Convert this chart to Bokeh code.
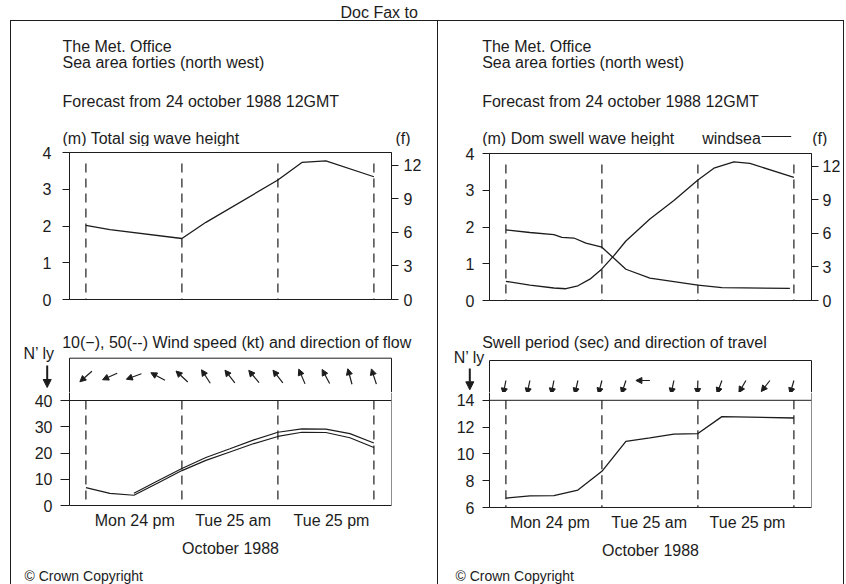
import math
from bokeh.plotting import figure
from bokeh.layouts import column, row
from bokeh.models import (Range1d, LinearAxis, FixedTicker, Arrow, NormalHead,
                          ColumnDataSource, Span, Spacer)
from bokeh.core.properties import value
from bokeh.embed import file_html
from bokeh.resources import INLINE
from bokeh.core.validation import silence
from bokeh.core.validation.warnings import MISSING_RENDERERS

silence(MISSING_RENDERERS, True)

# ---------------- data (hours after 24 Oct 1988 12GMT) ----------------
day_marks_h = [0, 12, 24, 36]

tot_hours = [0, 3, 12, 15, 24, 27, 30, 36]
tot_height_m = [2.02, 1.90, 1.66, 2.10, 3.25, 3.73, 3.77, 3.34]

swell_hours = [0, 3, 6, 7, 8.5, 10, 12, 15, 18, 24, 27, 35.5]
swell_m = [1.92, 1.85, 1.79, 1.72, 1.70, 1.56, 1.45, 0.85, 0.61, 0.42, 0.35, 0.33]

windsea_hours = [0, 3, 6, 7.5, 9, 10.5, 12, 13.5, 15, 18, 21, 24, 26, 28.5, 30.5, 36]
windsea_m = [0.52, 0.42, 0.34, 0.32, 0.40, 0.58, 0.86, 1.22, 1.62, 2.22, 2.72, 3.28,
             3.60, 3.77, 3.73, 3.35]

wind10_hours = [0, 3, 6, 9, 12, 15, 18, 21, 24, 27, 30, 33, 36]
wind10_kt = [6.8, 4.6, 3.9, 8.6, 13.3, 17.2, 20.4, 23.6, 26.3, 27.9, 27.8, 25.8, 22.1]
wind50_hours = [6, 9, 12, 15, 18, 21, 24, 27, 30, 33, 36]
wind50_kt = [4.7, 9.4, 14.1, 18.3, 21.6, 25.0, 27.9, 29.2, 29.1, 27.4, 23.8]

arrow_hours = [0, 3, 6, 9, 12, 15, 18, 21, 24, 27, 30, 33, 36]
wind_flow_deg = [229, 246, 250, 298, 313, 327, 322, 320, 322, 337, 332, 345, 342]
swell_travel_deg = [191, 192, 191, 193, 194, 198, 270, 192, 182, 200, 210, 218, 196]

period_hours = [0, 3, 6, 9, 12, 15, 18, 21, 24, 27, 36]
period_s = [6.7, 6.87, 6.88, 7.3, 8.7, 10.93, 11.2, 11.48, 11.52, 12.78, 12.68]

m_ticks = [0, 1, 2, 3, 4]
ft_ticks = [0, 3, 6, 9, 12]
kt_ticks = [0, 10, 20, 30, 40]
sec_ticks = [6, 8, 10, 12, 14]
time_labels = ["Mon 24 pm", "Tue 25 am", "Tue 25 pm"]
time_label_h_left = [6.1, 18.4, 30.7]
time_label_h_right = [5.5, 17.9, 30.2]
M_PER_FT = 0.3048

# ---------------- style / layout constants ----------------
FONT = "Liberation Sans"
INK = "#1c1c1c"
PXH = 8.0            # px per hour
FW = 322             # frame width
XS = -2.05
XE = XS + FW / PXH
KT_PX = 2.625        # px per knot
SEC_PX = 13.4        # px per second


def page_fig(x0, x1, y0, y1):
    return figure(width=x1 - x0, height=y1 - y0, x_range=Range1d(x0, x1),
                  y_range=Range1d(y1, y0), x_axis_type=None, y_axis_type=None,
                  toolbar_location=None, output_backend="svg", min_border=0,
                  outline_line_color=None, background_fill_color="white",
                  border_fill_color="white", frame_align=False)


def bar(w, h):
    return Spacer(width=w, height=h, styles={"background-color": INK})


def gap(w, h):
    return Spacer(width=w, height=h)


def chart_fig(w, h, left, top, frame_h, y0, y1):
    return figure(width=w, height=h, x_range=Range1d(XS, XE), y_range=Range1d(y0, y1),
                  x_axis_type=None, y_axis_type=None, toolbar_location=None,
                  output_backend="svg", min_border_left=left,
                  min_border_right=w - left - FW, min_border_top=top,
                  min_border_bottom=h - top - frame_h, outline_line_color=None,
                  background_fill_color="white", border_fill_color="white",
                  frame_align=False)


def txt(p, x, y, s, size=16, align="left"):
    p.text(x=[x], y=[y], text=[s], text_font=value(FONT), text_font_size=f"{size}px",
           text_align=align, text_baseline="middle", text_color=INK)


def style_axis(ax, tick_out, standoff):
    ax.axis_line_color = INK
    ax.axis_line_width = 1
    ax.major_tick_line_color = INK
    ax.major_tick_out = tick_out
    ax.major_tick_in = 0
    ax.minor_tick_line_color = None
    ax.major_label_text_font = FONT
    ax.major_label_text_font_size = "16px"
    ax.major_label_text_color = INK
    ax.major_label_standoff = standoff


def arrows(p, xs, ys, xe, ye, head=6, width=1.2, x_range_name="default"):
    src = ColumnDataSource(dict(x0=xs, y0=ys, x1=xe, y1=ye))
    a = Arrow(end=NormalHead(size=head, fill_color=INK, line_color=INK, line_width=1),
              x_start="x0", y_start="y0", x_end="x1", y_end="y1", source=src,
              line_color=INK, line_width=width, x_range_name=x_range_name)
    p.add_layout(a)


def time_axis(p, positions):
    ax = LinearAxis(ticker=FixedTicker(ticks=positions), axis_label="October 1988")
    ov = {}
    for pos, lab in zip(positions, time_labels):
        ov[pos] = lab
    ax.major_label_overrides = ov
    style_axis(ax, 0, 6)
    ax.axis_label_text_font = FONT
    ax.axis_label_text_font_size = "16px"
    ax.axis_label_text_font_style = "normal"
    ax.axis_label_text_color = INK
    ax.axis_label_standoff = 8
    p.add_layout(ax, "below")


def dashed_marks(p, top, bottom):
    p.segment(x0=day_marks_h, y0=[top] * len(day_marks_h), x1=day_marks_h,
              y1=[bottom] * len(day_marks_h), line_color=INK, line_width=1.2,
              line_dash="9 6")


def header_text(p, x0, ytitle, chart_title):
    txt(p, x0, 46, "The Met. Office")
    txt(p, x0, 62, "Sea area forties (north west)")
    txt(p, x0, 101, "Forecast from 24 october 1988 12GMT")
    txt(p, x0, ytitle, chart_title)


# ---------------- header ----------------
head = page_fig(0, 846, 0, 20)
txt(head, 340, 12, "Doc Fax to")
hline = row(gap(10, 1), bar(834, 1), gap(2, 1))

# ================= LEFT HALF (page x 11..437) =================
t1 = page_fig(11, 437, 21, 146)
header_text(t1, 62, 137.5, "(m) Total sig wave height")
txt(t1, 395, 137.5, "(f)")

c1 = chart_fig(426, 162, 58, 6, 147, 0, 4)
c1.outline_line_color = INK
c1.extra_y_ranges = {"ft": Range1d(0, 4 / M_PER_FT)}
ax = LinearAxis(ticker=FixedTicker(ticks=m_ticks))
style_axis(ax, 7, 11)
c1.add_layout(ax, "left")
ax = LinearAxis(y_range_name="ft", ticker=FixedTicker(ticks=ft_ticks))
style_axis(ax, 7, 5)
c1.add_layout(ax, "right")
dashed_marks(c1, 3.7, 0)
c1.line(tot_hours, tot_height_m, line_color=INK, line_width=1.3)

s2 = page_fig(11, 437, 308, 392)
h0 = XS - (69 - 11) / PXH
s2.extra_x_ranges = {"h": Range1d(h0, h0 + 426 / PXH)}
txt(s2, 61.7, 342, "10(\u2212), 50(--) Wind speed (kt) and direction of flow")
txt(s2, 23, 353, "N\u2019 ly")
arrows(s2, [46.7], [365], [46.7], [387], head=8, width=2)
s2.line([69, 69, 391, 391], [392, 357.7, 357.7, 392], line_color=INK, line_width=1)
L = 16
wx0, wx1, wy0, wy1 = [], [], [], []
for t, b in zip(arrow_hours, wind_flow_deg):
    dx = L * math.sin(math.radians(b)) / PXH
    dy = -L * math.cos(math.radians(b))
    wx0.append(t - dx / 2); wx1.append(t + dx / 2)
    wy0.append(376 - dy / 2); wy1.append(376 + dy / 2)
arrows(s2, wx0, wy0, wx1, wy1, head=6, width=1.2, x_range_name="h")

w = chart_fig(426, 174, 58, 0, 113, 0, 113 / KT_PX)
ax = LinearAxis(ticker=FixedTicker(ticks=kt_ticks))
style_axis(ax, 9, 8)
w.add_layout(ax, "left")
time_axis(w, time_label_h_left)
w.add_layout(Span(location=40, dimension="width", line_color=INK, line_width=1))
w.add_layout(Span(location=XE, dimension="height", line_color=INK, line_width=1))
dashed_marks(w, 40, 0)
w.line(wind10_hours, wind10_kt, line_color=INK, line_width=1.2)
w.line(wind50_hours, wind50_kt, line_color=INK, line_width=1.2)

b1 = page_fig(11, 437, 566, 584)
txt(b1, 24, 575.5, "\u00a9 Crown Copyright", size=14)

left_col = column(t1, c1, s2, w, b1)

# ================= RIGHT HALF (page x 438..843) =================
t2 = page_fig(438, 843, 21, 146)
header_text(t2, 481.7, 137.5, "(m) Dom swell wave height")
txt(t2, 701.7, 137.5, "windsea")
t2.line([761, 790.7], [136, 136], line_color=INK, line_width=1)
txt(t2, 811.7, 137.5, "(f)")

c2 = chart_fig(405, 162, 51, 7, 147, 0, 4)
c2.outline_line_color = INK
c2.extra_y_ranges = {"ft": Range1d(0, 4 / M_PER_FT)}
ax = LinearAxis(ticker=FixedTicker(ticks=m_ticks))
style_axis(ax, 7, 8)
c2.add_layout(ax, "left")
ax = LinearAxis(y_range_name="ft", ticker=FixedTicker(ticks=ft_ticks))
style_axis(ax, 7, 4)
c2.add_layout(ax, "right")
dashed_marks(c2, 3.7, 0)
c2.line(swell_hours, swell_m, line_color=INK, line_width=1.3)
c2.line(windsea_hours, windsea_m, line_color=INK, line_width=1.3)

s3 = page_fig(438, 843, 308, 392)
h0r = XS - (489 - 438) / PXH
s3.extra_x_ranges = {"h": Range1d(h0r, h0r + 405 / PXH)}
txt(s3, 481.7, 341.7, "Swell period (sec) and direction of travel")
txt(s3, 453.3, 357, "N\u2019 ly")
arrows(s3, [469.3], [368], [469.3], [389.3], head=8, width=2)
s3.line([489, 489, 811, 811], [392, 360, 360, 392], line_color=INK, line_width=1)
L2 = 14
sx0, sx1, sy0, sy1 = [], [], [], []
for t, b in zip(arrow_hours, swell_travel_deg):
    dx = L2 * math.sin(math.radians(b)) / PXH
    dy = -L2 * math.cos(math.radians(b))
    sx0.append(t); sx1.append(t + dx)
    sy0.append(380); sy1.append(380 + dy)
arrows(s3, sx0, sy0, sx1, sy1, head=6, width=1.2, x_range_name="h")

w2 = chart_fig(405, 174, 51, 0, 115, 6, 6 + 115 / SEC_PX)
ax = LinearAxis(ticker=FixedTicker(ticks=sec_ticks))
style_axis(ax, 7, 8)
w2.add_layout(ax, "left")
time_axis(w2, time_label_h_right)
w2.add_layout(Span(location=14, dimension="width", line_color=INK, line_width=1))
w2.add_layout(Span(location=XE, dimension="height", line_color=INK, line_width=1))
dashed_marks(w2, 14, 6)
w2.line(period_hours, period_s, line_color=INK, line_width=1.3)

b2 = page_fig(438, 843, 566, 584)
txt(b2, 455, 575.5, "\u00a9 Crown Copyright", size=14)

right_col = column(t2, c2, s3, w2, b2)

body = row(gap(10, 563), bar(1, 563), left_col, bar(1, 563),
           right_col, bar(1, 563), gap(2, 563))
root = column(head, hline, body)

open("out.html", "w").write(file_html(root, INLINE, title="Met Office forecast"))
